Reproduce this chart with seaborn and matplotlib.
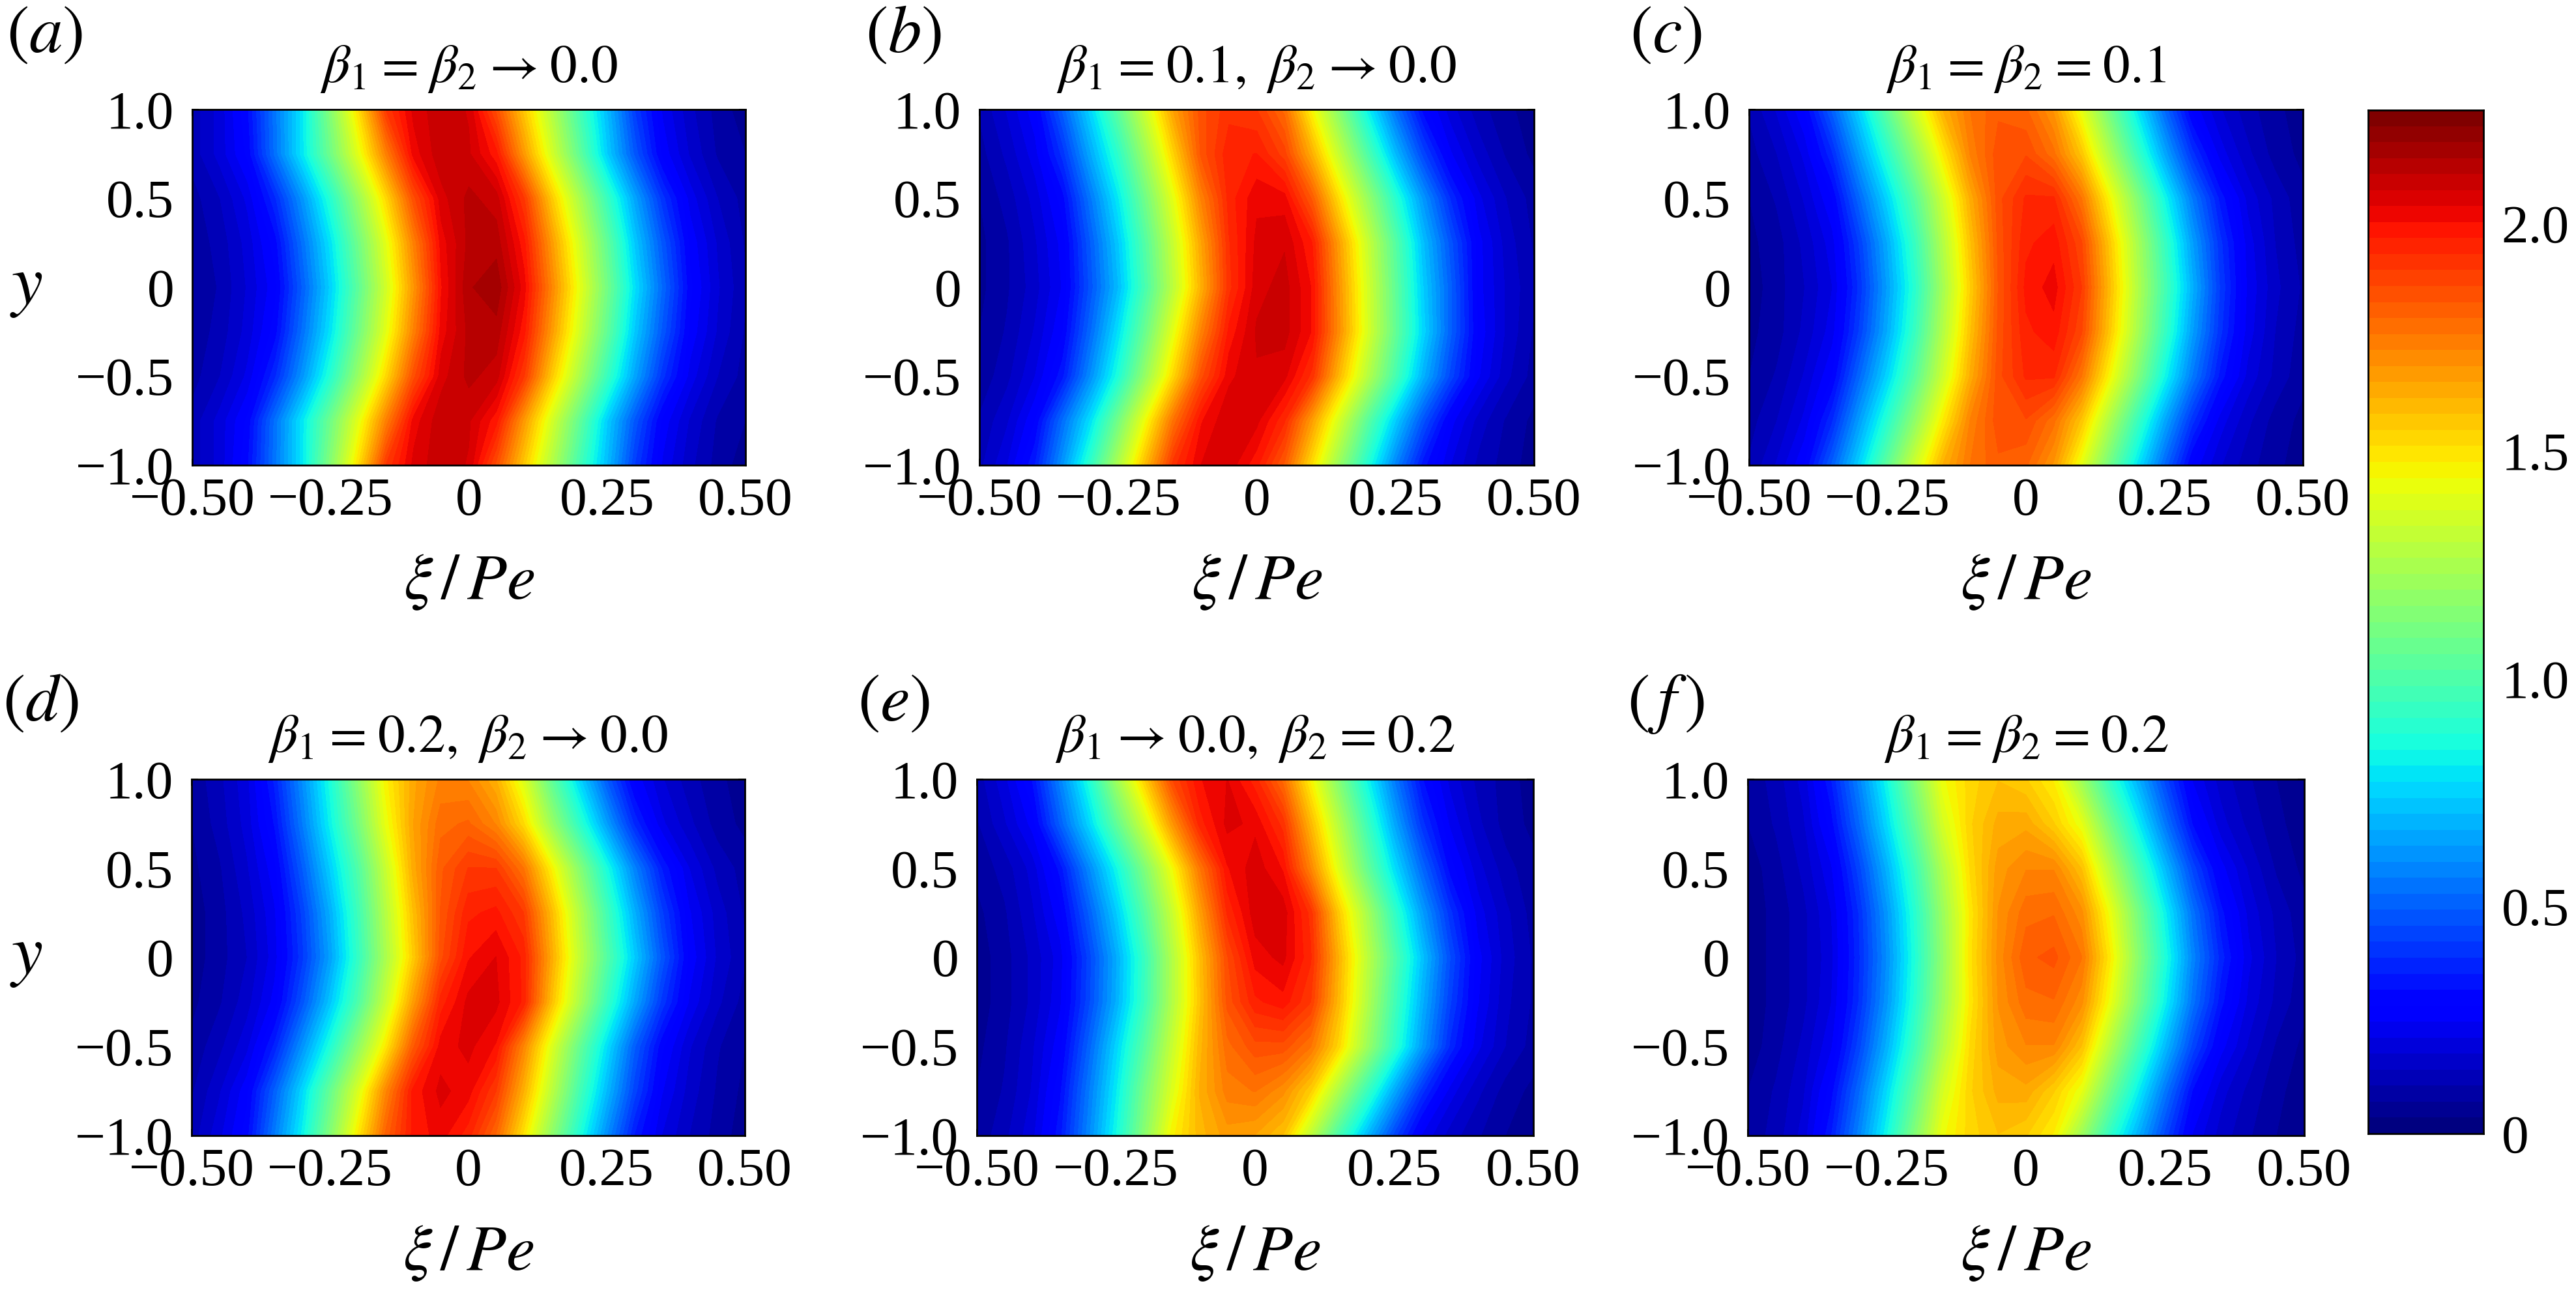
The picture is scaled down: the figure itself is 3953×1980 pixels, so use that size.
import seaborn as sns
import matplotlib.pyplot as plt
from matplotlib.ticker import MultipleLocator
import numpy as np

sns.set_theme(style="ticks")
plt.rcParams['font.family'] = ['Liberation Serif', 'DejaVu Serif']
plt.rcParams['mathtext.fontset'] = 'stix'
plt.rcParams['text.color'] = 'black'
plt.rcParams['axes.labelcolor'] = 'black'
plt.rcParams['xtick.labelcolor'] = 'black'
plt.rcParams['ytick.labelcolor'] = 'black'

# grid the values were read on
xi = [-0.50, -0.45, -0.40, -0.35, -0.30, -0.25, -0.20, -0.15, -0.10, -0.05, 0.0,
      0.05, 0.10, 0.15, 0.20, 0.25, 0.30, 0.35, 0.40, 0.45, 0.50]
y_rows = [1.0, 0.75, 0.5, 0.25, 0.0, -0.25, -0.5, -0.75, -1.0]

# one row per y_rows entry, top to bottom
panel_a = [
    [.12,.19,.31,.55,.80,1.15,1.51,1.90,2.05,2.10,2.07,1.85,1.56,1.27,.97,.70,.42,.24,.15,.09,.05],
    [.12,.19,.29,.54,.80,1.09,1.40,1.73,2.02,2.10,2.08,1.98,1.67,1.36,1.05,.74,.48,.27,.17,.10,.07],
    [.09,.14,.22,.38,.62,.89,1.20,1.52,1.85,2.06,2.12,2.09,1.90,1.56,1.25,.94,.65,.40,.23,.14,.09],
    [.08,.12,.19,.30,.54,.79,1.09,1.40,1.73,2.02,2.12,2.13,1.98,1.67,1.36,1.05,.73,.48,.27,.17,.10],
    [.07,.11,.18,.27,.50,.75,1.04,1.35,1.68,2.00,2.14,2.17,2.02,1.72,1.41,1.10,.78,.52,.29,.18,.11],
    [.08,.12,.19,.30,.54,.79,1.09,1.40,1.73,2.02,2.12,2.13,1.98,1.67,1.36,1.05,.73,.48,.27,.17,.10],
    [.09,.14,.22,.38,.62,.89,1.20,1.52,1.85,2.06,2.12,2.09,1.90,1.56,1.25,.94,.65,.40,.23,.14,.09],
    [.12,.19,.29,.54,.80,1.09,1.40,1.73,2.02,2.10,2.08,1.98,1.67,1.36,1.05,.74,.48,.27,.17,.10,.07],
    [.12,.19,.31,.55,.80,1.15,1.51,1.90,2.05,2.10,2.07,1.85,1.56,1.27,.97,.70,.42,.24,.15,.09,.05],
]
panel_b = [
    [.11,.18,.27,.50,.76,1.04,1.35,1.66,1.85,1.92,1.90,1.78,1.45,1.14,.82,.54,.30,.19,.12,.08,.05],
    [.09,.15,.23,.40,.66,.91,1.22,1.54,1.84,1.96,1.97,1.88,1.62,1.31,1.00,.70,.44,.25,.16,.10,.06],
    [.07,.12,.19,.30,.55,.80,1.10,1.41,1.73,1.95,2.03,2.02,1.82,1.50,1.20,.90,.62,.38,.22,.14,.09],
    [.06,.10,.17,.26,.49,.73,1.02,1.33,1.65,1.93,2.05,2.07,1.97,1.65,1.33,1.02,.71,.47,.26,.16,.10],
    [.06,.10,.16,.25,.47,.70,.99,1.30,1.62,1.92,2.06,2.09,2.00,1.68,1.36,1.05,.74,.50,.26,.17,.11],
    [.07,.11,.18,.28,.52,.78,1.08,1.41,1.73,1.98,2.08,2.09,2.00,1.69,1.37,1.06,.76,.50,.27,.17,.10],
    [.08,.13,.21,.34,.60,.87,1.20,1.53,1.85,2.03,2.07,2.05,1.92,1.59,1.28,.98,.68,.44,.25,.15,.09],
    [.11,.17,.28,.53,.78,1.10,1.44,1.77,2.00,2.07,2.05,1.94,1.66,1.35,1.03,.74,.47,.26,.16,.10,.06],
    [.13,.21,.35,.62,.92,1.26,1.60,1.92,2.04,2.06,1.98,1.82,1.51,1.19,.88,.58,.33,.21,.13,.09,.05],
]
panel_c = [
    [.11,.18,.28,.50,.76,1.05,1.35,1.62,1.76,1.82,1.80,1.68,1.41,1.10,.80,.52,.27,.18,.12,.08,.05],
    [.09,.14,.22,.38,.64,.90,1.18,1.48,1.73,1.85,1.86,1.77,1.57,1.26,.95,.66,.40,.23,.15,.09,.06],
    [.07,.11,.18,.28,.52,.76,1.03,1.34,1.63,1.85,1.94,1.94,1.76,1.46,1.15,.84,.56,.34,.20,.13,.08],
    [.06,.09,.15,.23,.43,.67,.94,1.27,1.58,1.84,1.96,1.99,1.87,1.57,1.25,.94,.64,.40,.23,.14,.09],
    [.05,.09,.14,.21,.40,.64,.90,1.23,1.55,1.83,1.98,2.02,1.90,1.60,1.28,.98,.68,.42,.24,.15,.10],
    [.06,.09,.15,.23,.43,.67,.94,1.27,1.58,1.84,1.96,1.99,1.87,1.57,1.25,.94,.64,.40,.23,.14,.09],
    [.07,.11,.18,.28,.52,.76,1.03,1.34,1.63,1.85,1.94,1.94,1.76,1.46,1.15,.84,.56,.34,.20,.13,.08],
    [.09,.14,.22,.38,.64,.90,1.18,1.48,1.73,1.85,1.86,1.77,1.57,1.26,.95,.66,.40,.23,.15,.09,.06],
    [.11,.18,.28,.50,.76,1.05,1.35,1.62,1.76,1.82,1.80,1.68,1.41,1.10,.80,.52,.27,.18,.12,.08,.05],
]
panel_d = [
    [.08,.13,.20,.36,.60,.86,1.16,1.46,1.64,1.73,1.72,1.62,1.38,1.05,.76,.49,.27,.18,.12,.08,.05],
    [.07,.12,.19,.32,.56,.82,1.10,1.41,1.65,1.78,1.80,1.72,1.52,1.21,.92,.64,.38,.22,.15,.09,.06],
    [.06,.10,.17,.27,.49,.74,1.00,1.32,1.63,1.82,1.90,1.90,1.76,1.47,1.16,.86,.58,.35,.21,.13,.09],
    [.05,.09,.15,.24,.43,.67,.95,1.27,1.58,1.83,1.96,1.98,1.90,1.60,1.28,.97,.68,.43,.25,.16,.10],
    [.05,.09,.14,.23,.41,.64,.92,1.24,1.55,1.85,2.00,2.04,1.96,1.64,1.32,1.02,.74,.48,.27,.17,.11],
    [.06,.10,.16,.26,.47,.72,.99,1.32,1.66,1.95,2.05,2.05,1.96,1.59,1.26,.94,.66,.41,.24,.15,.09],
    [.08,.13,.20,.36,.61,.87,1.17,1.48,1.82,2.02,2.05,2.00,1.72,1.39,1.07,.78,.50,.29,.18,.11,.07],
    [.10,.17,.27,.50,.76,1.06,1.37,1.71,1.98,2.05,2.02,1.90,1.62,1.30,.98,.70,.44,.25,.16,.10,.06],
    [.12,.20,.30,.56,.82,1.14,1.48,1.80,1.98,2.02,1.95,1.79,1.50,1.18,.88,.60,.35,.21,.14,.09,.05],
]
panel_e = [
    [.12,.20,.32,.58,.86,1.21,1.54,1.86,2.00,2.04,1.95,1.78,1.46,1.14,.84,.56,.32,.20,.13,.09,.05],
    [.10,.17,.26,.50,.75,1.04,1.34,1.67,1.95,2.05,2.03,1.92,1.60,1.28,.96,.66,.40,.24,.15,.09,.06],
    [.08,.12,.19,.33,.58,.83,1.12,1.43,1.75,2.00,2.06,2.00,1.72,1.39,1.07,.78,.52,.30,.19,.12,.08],
    [.06,.10,.17,.27,.49,.73,1.01,1.32,1.65,1.94,2.06,2.06,1.92,1.56,1.25,.93,.64,.40,.23,.15,.09],
    [.05,.09,.15,.23,.43,.66,.93,1.26,1.58,1.86,2.02,2.05,1.94,1.62,1.31,1.01,.72,.46,.26,.16,.10],
    [.05,.09,.15,.24,.44,.67,.94,1.26,1.57,1.84,1.96,1.99,1.90,1.60,1.28,.97,.68,.43,.25,.15,.10],
    [.06,.10,.17,.27,.50,.75,1.02,1.32,1.60,1.78,1.85,1.85,1.76,1.53,1.22,.92,.63,.38,.22,.14,.09],
    [.07,.11,.18,.31,.55,.80,1.10,1.38,1.62,1.74,1.76,1.70,1.55,1.25,.95,.66,.40,.23,.15,.09,.06],
    [.08,.13,.20,.34,.58,.84,1.15,1.46,1.60,1.67,1.65,1.58,1.30,.98,.70,.44,.24,.16,.11,.07,.05],
]
panel_f = [
    [.08,.12,.19,.35,.58,.84,1.14,1.43,1.53,1.58,1.55,1.47,1.21,.92,.68,.44,.24,.16,.11,.07,.05],
    [.07,.11,.17,.30,.52,.77,1.05,1.36,1.54,1.63,1.64,1.55,1.41,1.10,.82,.55,.31,.19,.13,.08,.05],
    [.05,.09,.15,.24,.44,.68,.95,1.26,1.52,1.67,1.72,1.72,1.58,1.28,.98,.70,.44,.26,.17,.10,.06],
    [.05,.08,.13,.21,.39,.62,.89,1.20,1.49,1.69,1.78,1.79,1.70,1.43,1.12,.82,.54,.33,.20,.13,.08],
    [.05,.08,.13,.20,.38,.60,.87,1.18,1.50,1.70,1.82,1.84,1.76,1.49,1.17,.87,.58,.37,.22,.14,.09],
    [.05,.08,.13,.21,.39,.62,.89,1.20,1.49,1.69,1.78,1.79,1.70,1.43,1.12,.82,.54,.33,.20,.13,.08],
    [.05,.09,.15,.24,.44,.68,.95,1.26,1.52,1.67,1.72,1.72,1.58,1.28,.98,.70,.44,.26,.17,.10,.06],
    [.07,.11,.17,.30,.52,.77,1.05,1.36,1.54,1.63,1.64,1.55,1.41,1.10,.82,.55,.31,.19,.13,.08,.05],
    [.08,.12,.19,.35,.58,.84,1.14,1.43,1.53,1.58,1.55,1.47,1.21,.92,.68,.44,.24,.16,.11,.07,.05],
]

# a little extra room round the relation signs, as in the original
EQ = r"\hspace{0.07}=\hspace{0.07}"
ARROW = r"\hspace{0.07}\rightarrow\hspace{0.07}"
titles = [
    rf"$\beta_1{EQ}\beta_2{ARROW}0.0$",
    rf"$\beta_1{EQ}0.1,\ \beta_2{ARROW}0.0$",
    rf"$\beta_1{EQ}\beta_2{EQ}0.1$",
    rf"$\beta_1{EQ}0.2,\ \beta_2{ARROW}0.0$",
    rf"$\beta_1{ARROW}0.0,\ \beta_2{EQ}0.2$",
    rf"$\beta_1{EQ}\beta_2{EQ}0.2$",
]
letters = [r"$(\mathit{a})$", r"$(\mathit{b})$", r"$(\mathit{c})$",
           r"$(\mathit{d})$", r"$(\mathit{e})$", r"$(\,\mathit{f}\,)$"]
x_ticks = [-0.5, -0.25, 0, 0.25, 0.5]
x_ticklabels = ["\u22120.50", "\u22120.25", "0", "0.25", "0.50"]
y_ticks = [-1, -0.5, 0, 0.5, 1]
y_ticklabels = ["\u22121.0", "\u22120.5", "0", "0.5", "1.0"]
cbar_ticks = [0, 0.5, 1.0, 1.5, 2.0]
cbar_ticklabels = ["0", "0.5", "1.0", "1.5", "2.0"]
vmax = 2.25
n_colors = 64

# layout in pixels of the output: left, right, top, bottom
W, H = 3953, 1980
boxes = [(295, 1144, 168, 714), (1503, 2354, 168, 714), (2684, 3534, 168, 714),
         (294, 1143, 1196, 1743), (1499, 2353, 1196, 1743), (2682, 3536, 1196, 1743)]
letter_pos = [(10, 80), (1328, 80), (2501, 80), (4, 1106), (1316, 1106), (2497, 1106)]
cbar_box = (3634, 3811, 169, 1740)
FS = 60

def place(box):
    l, r, t, b = box
    return fig.add_axes([l / W, 1 - b / H, (r - l) / W, (b - t) / H])

fig = plt.figure(figsize=(W / 100, H / 100), dpi=100)
cmap = plt.get_cmap("jet").resampled(n_colors)
levels = np.linspace(0, vmax, n_colors + 1)
panels = [panel_a, panel_b, panel_c, panel_d, panel_e, panel_f]

for i, grid in enumerate(panels):
    ax = place(boxes[i])
    # y_rows runs downward, contourf wants it ascending
    ax.contourf(xi, y_rows[::-1], np.array(grid)[::-1], levels=levels, cmap=cmap, extend="both")
    ax.set_xlim(-0.5, 0.5)
    ax.set_ylim(-1, 1)
    ax.set_xticks(x_ticks, x_ticklabels)
    ax.set_yticks(y_ticks, y_ticklabels)
    ax.xaxis.set_minor_locator(MultipleLocator(0.05))
    ax.yaxis.set_minor_locator(MultipleLocator(0.1))
    ax.tick_params(which="major", direction="in", top=True, right=True, length=7.5, width=1.4, color="black")
    ax.tick_params(which="minor", direction="in", top=True, right=True, length=3.8, width=1.2, color="black")
    ax.tick_params(axis="x", which="major", labelsize=FS, pad=13)
    ax.tick_params(axis="y", which="major", labelsize=FS, pad=20)
    for s in ax.spines.values():
        s.set_linewidth(2)
        s.set_color("black")
    ax.set_title(titles[i], fontsize=FS, pad=30)
    ax.set_xlabel(r"$\xi\,/\,Pe$", fontsize=72, va="baseline")
    ax.xaxis.set_label_coords(0.5, -0.376)
    if i % 3 == 0:
        ax.set_ylabel(r"$y$", fontsize=78, rotation=0, va="center", ha="center")
        ax.yaxis.set_label_coords((40 - boxes[i][0]) / (boxes[i][1] - boxes[i][0]), 0.5)
    fig.text(letter_pos[i][0] / W, 1 - letter_pos[i][1] / H, letters[i], fontsize=74, va="baseline", ha="left")

# colour bar strip, one cell per colour
cax = place(cbar_box)
strip = (levels[:-1] + levels[1:]).reshape(-1, 1) / 2
sns.heatmap(strip, ax=cax, cmap=cmap, vmin=0, vmax=vmax, cbar=False, xticklabels=False, yticklabels=False)
cax.set_ylim(0, n_colors)
cax.yaxis.tick_right()
cax.set_yticks([v / vmax * n_colors for v in cbar_ticks], cbar_ticklabels)
cax.tick_params(axis="y", direction="in", left=True, right=True, length=16, width=1.2, color="black",
                labelsize=FS, pad=20)
for s in cax.spines.values():
    s.set_visible(True)
    s.set_linewidth(2)
    s.set_color("black")

fig.savefig("out.png", dpi=100)
